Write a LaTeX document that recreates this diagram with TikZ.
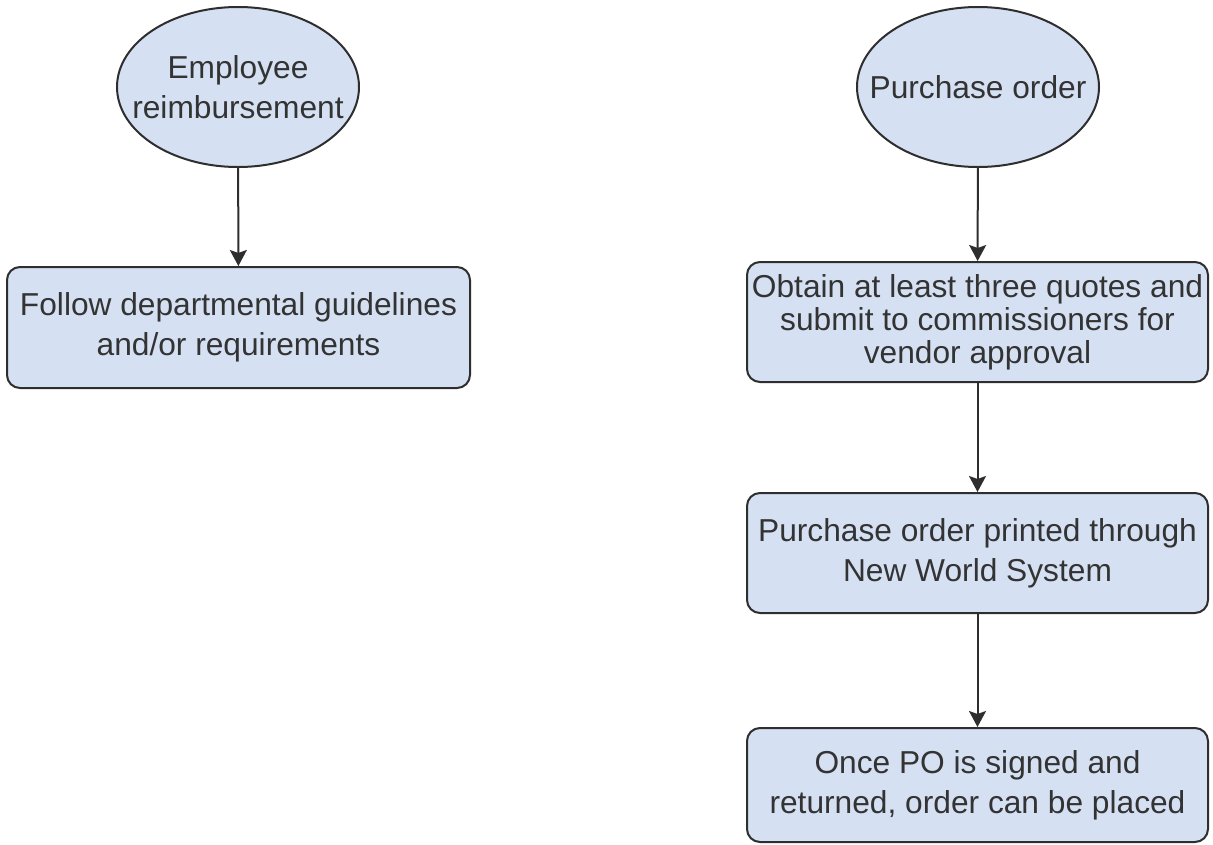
\documentclass[tikz,border=0pt]{standalone}
\usepackage{fontspec}
\setmainfont{Liberation Sans}
\usetikzlibrary{shapes.geometric,arrows.meta}
\definecolor{boxfill}{HTML}{D5E1F3}
\definecolor{edge}{HTML}{2E2E2E}
\definecolor{txt}{HTML}{333333}
\tikzset{
  base/.style={draw=edge, fill=boxfill, line width=2pt, text=txt, align=center, inner sep=0pt,
    font=\fontsize{31.7}{40}\selectfont},
  oval/.style={base, ellipse, inner xsep=-40pt, inner ysep=0pt, minimum width=242pt, minimum height=160pt},
  stepbox/.style={base, rectangle, rounded corners=13pt, minimum width=461pt, minimum height=120pt},
  conn/.style={draw=edge, line width=2pt, -{Stealth[length=16pt,width=17pt,inset=3pt]}}
}
\begin{document}
\begin{tikzpicture}[x=1pt,y=-1pt]
\useasboundingbox (0,0) rectangle (1213,844);
\node[oval] (emp) at (238,87) {Employee\\reimbursement};
\node[stepbox, minimum width=463pt, minimum height=121pt] (follow) at (238.5,327.5) {Follow departmental guidelines\\and/or requirements};
\node[oval] (po) at (978,87) {Purchase order};
\node[stepbox, font=\fontsize{31.7}{33}\selectfont] (quotes) at (977.5,322) {Obtain at least three quotes and\\submit to commissioners for\\vendor approval};
\node[stepbox] (printed) at (977.5,553) {Purchase order printed through\\New World System};
\node[stepbox, minimum height=114pt] (signed) at (977.5,785) {Once PO is signed and\\returned, order can be placed};
\draw[conn] (emp) -- (follow);
\draw[conn] (po) -- (quotes);
\draw[conn] (quotes) -- (printed);
\draw[conn] (printed) -- (signed);
\end{tikzpicture}
\end{document}
